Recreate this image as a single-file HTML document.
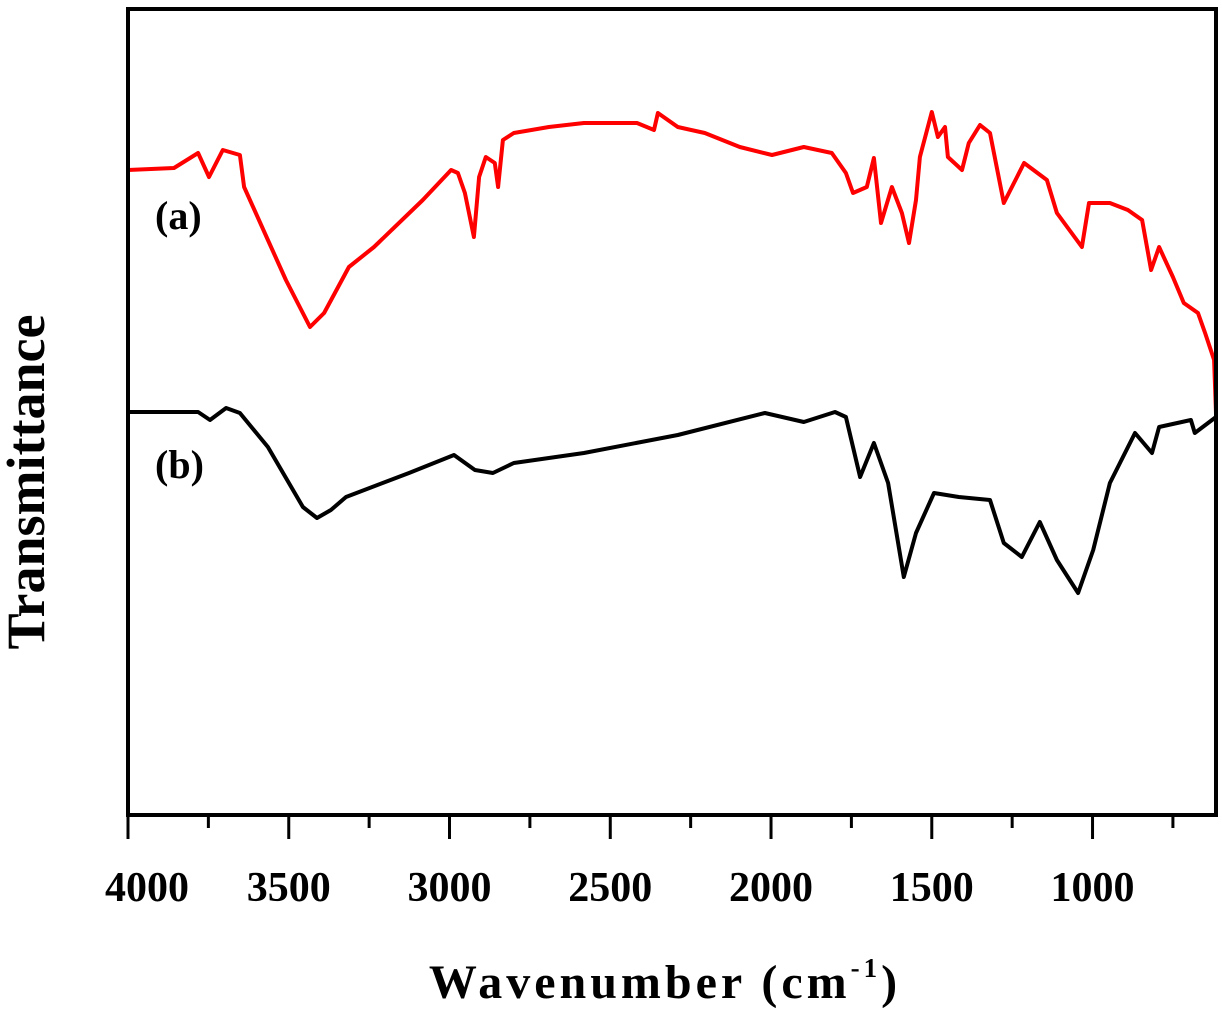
<!DOCTYPE html>
<html><head><meta charset="utf-8"><style>
html,body{margin:0;padding:0;background:#fff;}
svg text{font-family:"Liberation Serif",serif;font-weight:bold;fill:#000;}
</style></head><body>
<svg id="chart" width="1222" height="1009" viewBox="0 0 1222 1009" xmlns="http://www.w3.org/2000/svg">
<g id="plot"></g>
<text x="155" y="229" font-size="40">(a)</text>
<text x="155" y="478" font-size="40">(b)</text>
<text transform="translate(44,482) rotate(-90)" text-anchor="middle" font-size="54">Transmittance</text>
<text x="665" y="998" text-anchor="middle" font-size="48" letter-spacing="4">Wavenumber (cm<tspan font-size="27" dy="-21">-1</tspan><tspan dy="21">)</tspan></text>
</svg>
<script>
const redWn=[4000,3857,3782,3748,3705,3652,3639,3565,3509,3434,3390,3313,3235,3083,2995,2974,2952,2924,2908,2887,2859,2849,2834,2800,2691,2582,2417,2364,2352,2290,2206,2097,1997,1898,1811,1767,1745,1702,1680,1658,1624,1593,1571,1549,1537,1500,1481,1459,1450,1406,1385,1350,1319,1276,1213,1142,1111,1033,1011,946,890,846,818,793,750,716,672,650,622,616];
const redT=[645,647,662,638,665,660,628,575,535,488,502,548,568,615,645,642,622,578,638,658,652,628,675,682,688,692,692,685,702,688,682,668,660,668,662,642,622,628,657,592,628,602,572,615,658,703,678,688,658,645,672,690,682,612,652,635,602,568,612,612,605,595,545,568,538,512,502,482,455,402];
const blackWn=[4000,3782,3745,3695,3652,3565,3456,3412,3369,3322,3126,2986,2921,2865,2800,2582,2290,2019,1898,1801,1767,1723,1680,1636,1587,1549,1493,1416,1319,1276,1220,1164,1111,1045,998,946,868,815,793,694,682,616];
const blackT=[403,403,395,407,402,368,308,297,305,318,342,360,345,342,352,362,380,402,393,403,398,338,372,332,238,282,322,318,315,272,258,293,255,222,265,332,382,362,388,395,382,398];
const majorTicks=[4000,3500,3000,2500,2000,1500,1000];
const minorTicks=[3750,3250,2750,2250,1750,1250,750];
const tickLabels=["4000","3500","3000","2500","2000","1500","1000"];
const X0=128,X1=1216,Y0=9,Y1=815;
const WMAX=4000,WMIN=616;
function xs(w){return X0+(WMAX-w)/(WMAX-WMIN)*(X1-X0);}
function ys(t){return Y1-t;}
const NS="http://www.w3.org/2000/svg";
const plot=document.getElementById('plot');
function mk(tag,attrs){const e=document.createElementNS(NS,tag);for(const k in attrs)e.setAttribute(k,attrs[k]);return e;}
function line(xv,yv,color,name){
  const d=xv.map((w,i)=>(i?'L':'M')+xs(w).toFixed(1)+','+ys(yv[i]).toFixed(1)).join(' ');
  const p=mk('path',{d:d,fill:'none',stroke:color,'stroke-width':4,'stroke-linejoin':'round'});
  
  
  plot.appendChild(p);
}
line(redWn,redT,'#ff0000','series-a-red');
line(blackWn,blackT,'#000000','series-b-black');
const frame=mk('rect',{x:X0,y:Y0,width:X1-X0,height:Y1-Y0,fill:'none',stroke:'#000','stroke-width':4});


plot.appendChild(frame);
majorTicks.forEach((w,i)=>{
  const t=mk('line',{x1:xs(w),x2:xs(w),y1:Y1,y2:Y1+24,stroke:'#000','stroke-width':3});
  
  
  plot.appendChild(t);
  const lx=i===0?xs(w)+19:xs(w);
  const tx=mk('text',{x:lx,y:Y1+86,'text-anchor':'middle','font-size':42});
  tx.textContent=tickLabels[i];
  
  
  plot.appendChild(tx);
});
minorTicks.forEach(w=>{
  const t=mk('line',{x1:xs(w),x2:xs(w),y1:Y1,y2:Y1+13,stroke:'#000','stroke-width':3});
  
  
  plot.appendChild(t);
});
</script>
</body></html>
